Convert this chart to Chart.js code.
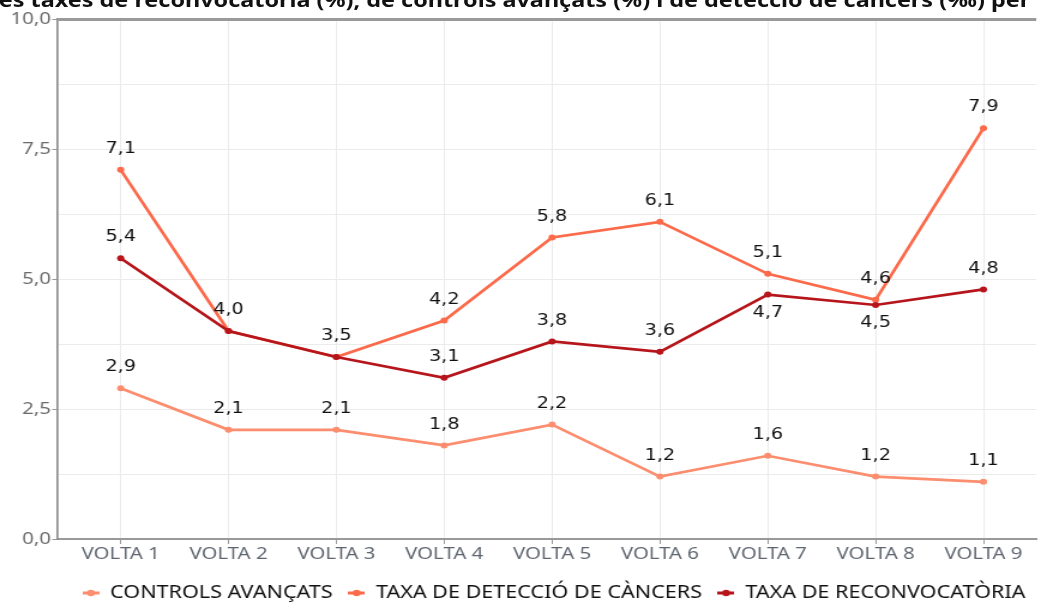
<!DOCTYPE html>
<html>
<head>
<meta charset="utf-8">
<script src="https://cdn.jsdelivr.net/npm/chart.js@4/dist/chart.umd.min.js"></script>
<style>
  html, body { margin: 0; padding: 0; background: #fff; overflow: hidden; }
  #page { width: 1041px; height: 603px; overflow: hidden; position: relative; }
  /* the source picture is stretched horizontally, so is this one */
  #stage {
    position: absolute; left: 0; top: 0; width: 868px; height: 603px;
    transform: scaleX(1.19931); transform-origin: 0 0;
  }
  #title {
    position: absolute; right: 9px; top: -10px; white-space: nowrap;
    font: bold 19.5px "Noto Sans", sans-serif; line-height: 20px; color: #111;
  }
  canvas { position: absolute; left: 0; top: 0; }
</style>
</head>
<body>
<div id="page">
  <div id="stage">
    <div id="title">Evolució de les taxes de reconvocatòria (%), de controls avançats (%) i de detecció de càncers (‰) per</div>
    <canvas id="lineChart" width="868" height="603"></canvas>
  </div>
</div>
<script>
const categories = ['VOLTA 1', 'VOLTA 2', 'VOLTA 3', 'VOLTA 4', 'VOLTA 5', 'VOLTA 6', 'VOLTA 7', 'VOLTA 8', 'VOLTA 9'];
const controlsAvancats = [2.9, 2.1, 2.1, 1.8, 2.2, 1.2, 1.6, 1.2, 1.1];
const taxaDeteccio = [7.1, 4.0, 3.5, 4.2, 5.8, 6.1, 5.1, 4.6, 7.9];
const taxaReconvocatoria = [5.4, 4.0, 3.5, 3.1, 3.8, 3.6, 4.7, 4.5, 4.8];
const yTickValues = [0, 2.5, 5, 7.5, 10];
const yTickLabels = ['0,0', '2,5', '5,0', '7,5', '10,0'];

// labels drawn under the point instead of above (series name -> indexes)
const labelsBelow = { 'TAXA DE RECONVOCATÒRIA': [6, 7] };

function legendMarker(color) {
  const c = document.createElement('canvas');
  c.width = 14; c.height = 8;
  const g = c.getContext('2d');
  g.strokeStyle = color; g.lineWidth = 3;
  g.beginPath(); g.moveTo(0, 4); g.lineTo(14, 4); g.stroke();
  g.fillStyle = color;
  g.beginPath(); g.arc(7, 4, 3.2, 0, Math.PI * 2); g.fill();
  return c;
}

function series(label, values, color) {
  return {
    label: label,
    data: values.map((v, i) => ({ x: i, y: v })),
    borderColor: color,
    backgroundColor: color,
    borderWidth: 2.7,
    pointRadius: 3,
    pointBorderWidth: 0,
    pointStyle: 'circle',
    tension: 0
  };
}

const valueLabels = {
  id: 'valueLabels',
  afterDatasetsDraw(chart) {
    const ctx = chart.ctx;
    const done = new Set();
    ctx.save();
    ctx.font = '16px "DejaVu Sans", sans-serif';
    ctx.fillStyle = '#111';
    ctx.textAlign = 'center';
    ctx.textBaseline = 'middle';
    chart.data.datasets.forEach((ds, di) => {
      const meta = chart.getDatasetMeta(di);
      const below = labelsBelow[ds.label] || [];
      meta.data.forEach((pt, i) => {
        const v = ds.data[i].y;
        const key = i + ':' + v;
        if (done.has(key)) return;
        done.add(key);
        const y = below.includes(i) ? pt.y + 18 : pt.y - 21;
        ctx.fillText(v.toFixed(1).replace('.', ','), pt.x, y);
      });
    });
    ctx.restore();
  }
};

new Chart(document.getElementById('lineChart'), {
  type: 'line',
  data: {
    // reconvocatòria first so it is painted on top; legend is reversed
    datasets: [
      series('TAXA DE RECONVOCATÒRIA', taxaReconvocatoria, '#b5151b'),
      series('TAXA DE DETECCIÓ DE CÀNCERS', taxaDeteccio, '#fb6a4a'),
      series('CONTROLS AVANÇATS', controlsAvancats, '#fc8d6e')
    ]
  },
  options: {
    responsive: false,
    animation: false,
    layout: { padding: { top: 19, left: 0, right: 0, bottom: -9 } },
    plugins: {
      tooltip: { enabled: false },
      legend: {
        position: 'bottom',
        align: 'end',
        reverse: true,
        labels: {
          usePointStyle: true,
          pointStyleWidth: 14,
          boxHeight: 8,
          padding: 13,
          color: '#111',
          font: { family: 'Noto Sans', size: 18 },
          generateLabels(chart) {
            const items = Chart.defaults.plugins.legend.labels.generateLabels(chart);
            items.forEach(it => {
              it.pointStyle = legendMarker(chart.data.datasets[it.datasetIndex].borderColor);
            });
            return items;
          }
        }
      }
    },
    scales: {
      x: {
        type: 'linear',
        min: -0.5905,
        max: 8.489,
        afterBuildTicks(scale) {
          scale.ticks = categories.map((_, i) => ({ value: i }));
        },
        afterFit(scale) { scale.height = 32; },
        ticks: {
          autoSkip: false,
          maxRotation: 0,
          padding: 0,
          color: '#5f6670',
          font: { family: 'Noto Sans', size: 17 },
          callback: v => categories[v]
        },
        grid: { color: '#ebebeb', lineWidth: 1, tickLength: 5, tickColor: '#999' },
        border: { color: '#999', width: 2 }
      },
      y: {
        min: 0,
        max: 10,
        afterFit(scale) { scale.width = 47.5; },
        ticks: {
          stepSize: 1.25,
          padding: 1,
          color: '#6b6b6b',
          font: { family: 'Noto Sans', size: 17 },
          callback: v => {
            const k = yTickValues.indexOf(v);
            return k >= 0 ? yTickLabels[k] : '';
          }
        },
        grid: {
          color: c => c.tick && c.tick.value === 10 ? '#9a9a9a' : '#ebebeb',
          lineWidth: c => c.tick && c.tick.value === 10 ? 3 : 1,
          tickLength: 4,
          tickWidth: 1,
          tickColor: c => c.tick && yTickValues.includes(c.tick.value) ? '#999' : 'rgba(0,0,0,0)'
        },
        border: { color: '#8c8c8c', width: 1.7 }
      }
    }
  },
  plugins: [valueLabels]
});
</script>
</body>
</html>
